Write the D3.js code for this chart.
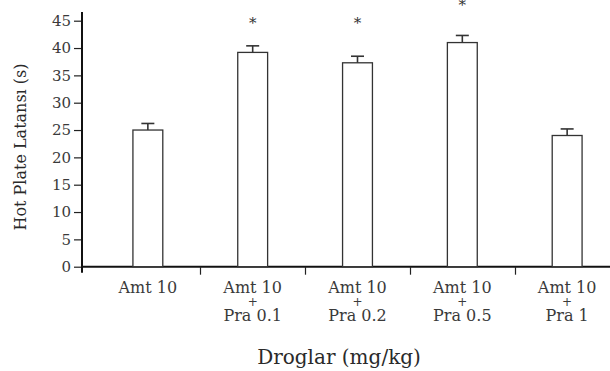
<!DOCTYPE html>
<html>
<head>
<meta charset="utf-8">
<script src="https://cdn.jsdelivr.net/npm/d3@7"></script>
<style>
  body { margin: 0; background: #fff; }
  svg { display: block; font-family: "DejaVu Serif", serif; }
</style>
</head>
<body>
<div id="chart"></div>
<script>
// data
const groups = ["g1", "g2", "g3", "g4", "g5"];
const labelLines = [["Amt 10"], ["Amt 10", "+", "Pra 0.1"], ["Amt 10", "+", "Pra 0.2"], ["Amt 10", "+", "Pra 0.5"], ["Amt 10", "+", "Pra 1"]];
const means = [25.0, 39.2, 37.3, 41.0, 24.0];
const errors = [1.2, 1.2, 1.2, 1.3, 1.2];
const starAt = [null, 45.3, 45.3, 48.6, null]; // y-value of the "*" marks
const yTicks = [0, 5, 10, 15, 20, 25, 30, 35, 40, 45];

// set the dimensions
const W = 610, H = 371;
const x0 = 82, yBase = 266.7, yTop = 20.7;

const svg = d3.select("#chart")
  .append("svg")
  .attr("width", W)
  .attr("height", H);

const x = d3.scaleBand()
  .domain(groups)
  .range([95.5, 619.5])
  .paddingInner(0.715)
  .paddingOuter(0.357);

const y = d3.scaleLinear()
  .domain([0, 45])
  .range([yBase, yTop]);

// Y axis
const yAxis = svg.append("g")
  .attr("transform", `translate(${x0},0)`)
  .call(d3.axisLeft(y).tickValues(yTicks).tickSize(8).tickSizeOuter(0).tickPadding(3));
yAxis.select(".domain").remove();
yAxis.selectAll(".tick line").attr("stroke", "#222").attr("stroke-width", 1.2);
yAxis.selectAll(".tick text")
  .style("font-family", "DejaVu Serif, serif")
  .style("font-size", "15px")
  .attr("fill", "#3a3a3a");

svg.append("line")
  .attr("x1", x0).attr("x2", x0)
  .attr("y1", 12).attr("y2", yBase + 6)
  .attr("stroke", "#111").attr("stroke-width", 2);

// X axis line and the ticks between groups
svg.append("line")
  .attr("x1", x0).attr("x2", W)
  .attr("y1", yBase).attr("y2", yBase)
  .attr("stroke", "#111").attr("stroke-width", 2);

const step = x.step();
svg.selectAll(".sep")
  .data(groups.slice(1))
  .join("line")
  .attr("class", "sep")
  .attr("x1", (d) => Math.round(x(d) - (step - x.bandwidth()) / 2) + 0.5)
  .attr("x2", (d) => Math.round(x(d) - (step - x.bandwidth()) / 2) + 0.5)
  .attr("y1", yBase)
  .attr("y2", yBase + 8)
  .attr("stroke", "#222")
  .attr("stroke-width", 1.2);

// category labels, three lines: name, "+", second drug
const lineY = [292.5, 305.5, 320.5];
const lab = svg.selectAll(".xlab")
  .data(groups)
  .join("text")
  .attr("class", "xlab")
  .attr("text-anchor", "middle")
  .attr("fill", "#3a3a3a")
  .style("font-size", "16px");
lab.each(function (d, i) {
  const cx = x(d) + x.bandwidth() / 2;
  d3.select(this).selectAll("tspan")
    .data(labelLines[i])
    .join("tspan")
    .attr("x", cx)
    .attr("y", (t, j) => lineY[j])
    .style("font-size", (t) => (t === "+" ? "12px" : null))
    .text((t) => t);
});

// Bars
svg.selectAll(".bar")
  .data(groups)
  .join("rect")
  .attr("class", "bar")
  .attr("x", (d) => x(d))
  .attr("y", (d, i) => y(means[i]))
  .attr("width", x.bandwidth())
  .attr("height", (d, i) => yBase - y(means[i]))
  .attr("fill", "#fff")
  .attr("stroke", "#333")
  .attr("stroke-width", 1.3);

// error bars (upper half only)
const err = svg.selectAll(".err")
  .data(groups)
  .join("g")
  .attr("class", "err")
  .attr("stroke", "#333")
  .attr("stroke-width", 1.6);
err.append("line")
  .attr("x1", (d) => x(d) + x.bandwidth() / 2)
  .attr("x2", (d) => x(d) + x.bandwidth() / 2)
  .attr("y1", (d, i) => y(means[i]))
  .attr("y2", (d, i) => y(means[i] + errors[i]));
err.append("line")
  .attr("x1", (d) => x(d) + x.bandwidth() / 2 - 6.5)
  .attr("x2", (d) => x(d) + x.bandwidth() / 2 + 6.5)
  .attr("y1", (d, i) => y(means[i] + errors[i]))
  .attr("y2", (d, i) => y(means[i] + errors[i]));

// significance stars
svg.selectAll(".star")
  .data(groups.filter((d, i) => starAt[i] !== null))
  .join("text")
  .attr("class", "star")
  .attr("text-anchor", "middle")
  .attr("x", (d) => x(d) + x.bandwidth() / 2)
  .attr("y", (d) => y(starAt[groups.indexOf(d)]) + 9)
  .attr("fill", "#333")
  .style("font-size", "15px")
  .text("*");

// axis titles
svg.append("text")
  .attr("transform", `translate(26,${147}) rotate(-90)`)
  .attr("text-anchor", "middle")
  .attr("fill", "#2a2a2a")
  .style("font-size", "16px")
  .text("Hot Plate Latansı (s)");

svg.append("text")
  .attr("x", 339)
  .attr("y", 364)
  .attr("text-anchor", "middle")
  .attr("fill", "#2a2a2a")
  .style("font-size", "20px")
  .text("Droglar (mg/kg)");
</script>
</body>
</html>
